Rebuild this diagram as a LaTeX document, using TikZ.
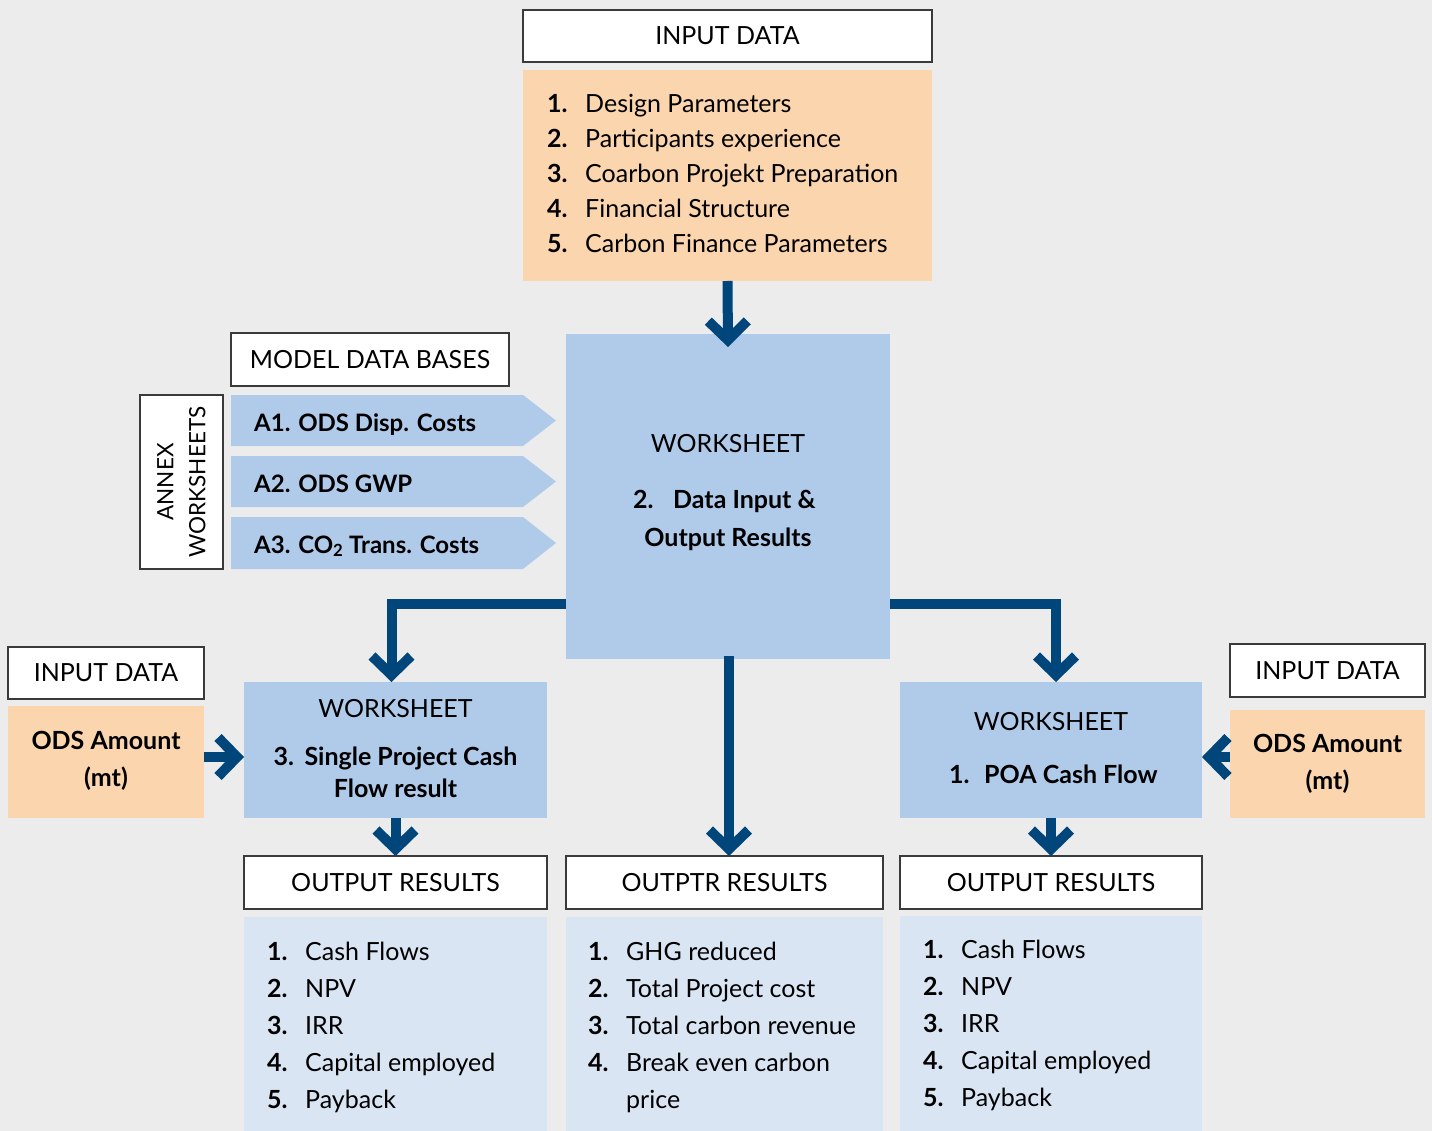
\documentclass[tikz,border=0pt]{standalone}
\usepackage{fontspec}
\setmainfont{Lato}
\usetikzlibrary{arrows.meta,calc}
\definecolor{bgc}{HTML}{ECECEC}
\definecolor{orangec}{HTML}{FBD5AE}
\definecolor{bluec}{HTML}{B0CAEA}
\definecolor{lightc}{HTML}{DAE5F4}
\definecolor{arrc}{HTML}{00467A}
\definecolor{bordc}{HTML}{3A3A3A}
\newcommand\fsz{\fontsize{25}{30}\selectfont}
\tikzset{
  x=1pt, y=1pt,
  box/.style={anchor=north west, inner sep=0pt, outer sep=0pt},
  hdr/.style={box, draw=bordc, line width=1.4pt, fill=white, font=\fsz},
  orangebox/.style={box, fill=orangec},
  wsbox/.style={box, fill=bluec},
  listbox/.style={box, fill=lightc},
  txt/.style={inner sep=0pt, font=\fsz},
  btxt/.style={inner sep=0pt, font=\fsz\bfseries},
  listtxt/.style={inner sep=0pt, anchor=base west, align=left, font=\fontsize{25}{37}\selectfont},
  conn/.style={draw=arrc, line width=10pt, line join=miter,
    -{Straight Barb[length=19pt,width=39pt]}},
}
\newcommand\itm[2]{\makebox[38pt][l]{\bfseries #1}#2}
\begin{document}
\begin{tikzpicture}
\fill[bgc] (0,0) rectangle (1432,-1131);
\useasboundingbox (0,0) rectangle (1432,-1131);

% top input data
\node[hdr, minimum width=409, minimum height=52] (inhdr) at (523,-10) {INPUT DATA};
\node[orangebox, minimum width=409, minimum height=211] (inbox) at (523,-70) {};
\node[listtxt, font=\fontsize{25}{34.8}\selectfont] (inlist) at (547,-252.2)
  {\itm{1.}{Design Parameters}\\ \itm{2.}{Participants experience}\\ \itm{3.}{Coarbon Projekt Preparation}\\ \itm{4.}{Financial Structure}\\ \itm{5.}{Carbon Finance Parameters}};

% worksheet 2
\node[wsbox, minimum width=324, minimum height=325] (ws2) at (566,-334) {};
\node[txt, anchor=base] (ws2a) at (728,-452) {WORKSHEET};
\node[btxt, anchor=base west] (ws2b) at (633,-508) {\makebox[40pt][l]{2.}Data Input \&};
\node[btxt, anchor=base] (ws2c) at (728,-546) {Output Results};

% model data bases
\node[hdr, minimum width=278, minimum height=53] (mdb) at (231,-333) {MODEL DATA BASES};
\node[hdr, minimum width=83, minimum height=174] (annex) at (140,-395) {};
\node[txt, rotate=90, align=center, font=\fontsize{22.5}{32}\selectfont] (annext) at (annex.center) {ANNEX\\WORKSHEETS};
\fill[bluec] (231,-395) -- (523,-395) -- (556,-420.5) -- (523,-446) -- (231,-446) -- cycle;
\fill[bluec] (231,-456) -- (523,-456) -- (556,-481.5) -- (523,-507) -- (231,-507) -- cycle;
\fill[bluec] (231,-517) -- (523,-517) -- (556,-543) -- (523,-569) -- (231,-569) -- cycle;
\node[btxt, anchor=base west, font=\fontsize{24}{30}\selectfont\bfseries] (a1) at (254,-431) {A1. ODS Disp. Costs};
\node[btxt, anchor=base west, font=\fontsize{24}{30}\selectfont\bfseries] (a2) at (254,-492) {A2. ODS GWP};
\node[btxt, anchor=base west, font=\fontsize{24}{30}\selectfont\bfseries] (a3) at (254,-553) {A3. CO\textsubscript{2} Trans. Costs};

% left input
\node[hdr, minimum width=196, minimum height=52] (inl) at (8,-647) {INPUT DATA};
\node[orangebox, minimum width=196, minimum height=112] (odsl) at (8,-706) {};
\node[btxt, anchor=base] (odsla) at (106,-749) {ODS Amount};
\node[btxt, anchor=base] (odslb) at (106,-786) {(mt)};

% right input
\node[hdr, minimum width=195, minimum height=53] (inr) at (1230,-644) {INPUT DATA};
\node[orangebox, minimum width=195, minimum height=108] (odsr) at (1230,-710) {};
\node[btxt, anchor=base] (odsra) at (1327.5,-752) {ODS Amount};
\node[btxt, anchor=base] (odsrb) at (1327.5,-789) {(mt)};

% worksheet 3
\node[wsbox, minimum width=303, minimum height=136] (ws3) at (244,-682) {};
\node[txt, anchor=base] (ws3a) at (395.5,-717) {WORKSHEET};
\node[btxt, anchor=base] (ws3b) at (395.5,-765) {\makebox[31pt][l]{3.}Single Project Cash};
\node[btxt, anchor=base] (ws3c) at (395.5,-797) {Flow result};

% worksheet 1
\node[wsbox, minimum width=302, minimum height=136] (ws1) at (900,-682) {};
\node[txt, anchor=base] (ws1a) at (1051,-730) {WORKSHEET};
\node[btxt, anchor=base west] (ws1b) at (949,-783) {\makebox[35pt][l]{1.}POA Cash Flow};

% outputs
\node[hdr, minimum width=303, minimum height=53] (outl) at (244,-856) {OUTPUT RESULTS};
\node[hdr, minimum width=317, minimum height=53] (outm) at (566,-856) {OUTPTR RESULTS};
\node[hdr, minimum width=302, minimum height=53] (outr) at (900,-856) {OUTPUT RESULTS};
\node[listbox, minimum width=303, minimum height=214] (listl) at (244,-917) {};
\node[listbox, minimum width=317, minimum height=214] (listm) at (566,-917) {};
\node[listbox, minimum width=302, minimum height=215] (listr) at (900,-916) {};
\node[listtxt] (ll) at (267,-1108)
  {\itm{1.}{Cash Flows}\\ \itm{2.}{NPV}\\ \itm{3.}{IRR}\\ \itm{4.}{Capital employed}\\ \itm{5.}{Payback}};
\node[listtxt] (lm) at (588,-1108)
  {\itm{1.}{GHG reduced}\\ \itm{2.}{Total Project cost}\\ \itm{3.}{Total carbon revenue}\\ \itm{4.}{Break even carbon}\\ \itm{}{price}};
\node[listtxt] (lr) at (923,-1106)
  {\itm{1.}{Cash Flows}\\ \itm{2.}{NPV}\\ \itm{3.}{IRR}\\ \itm{4.}{Capital employed}\\ \itm{5.}{Payback}};

% connectors
\coordinate (yl) at (0,-604);
\coordinate (ya) at (0,-757);
\draw[conn] (inbox.south) -- ($(ws2.north)+(0,-13)$);
\draw[conn] (ws2.west |- yl) -| ($(ws3.north)+(-4,0)$);
\draw[conn] (ws2.east |- yl) -| ($(ws1.north)+(5,0)$);
\draw[conn] ($(ws2.south)+(1,3)$) -- ($(ws2.south |- outm.north)+(1,0)$);
\draw[conn] (ws3.south) -- (outl.north);
\draw[conn] (ws1.south) -- (outr.north);
\draw[conn] (odsl.east |- ya) -- (ws3.west |- ya);
\draw[conn] (odsr.west |- ya) -- (ws1.east |- ya);
\end{tikzpicture}
\end{document}
